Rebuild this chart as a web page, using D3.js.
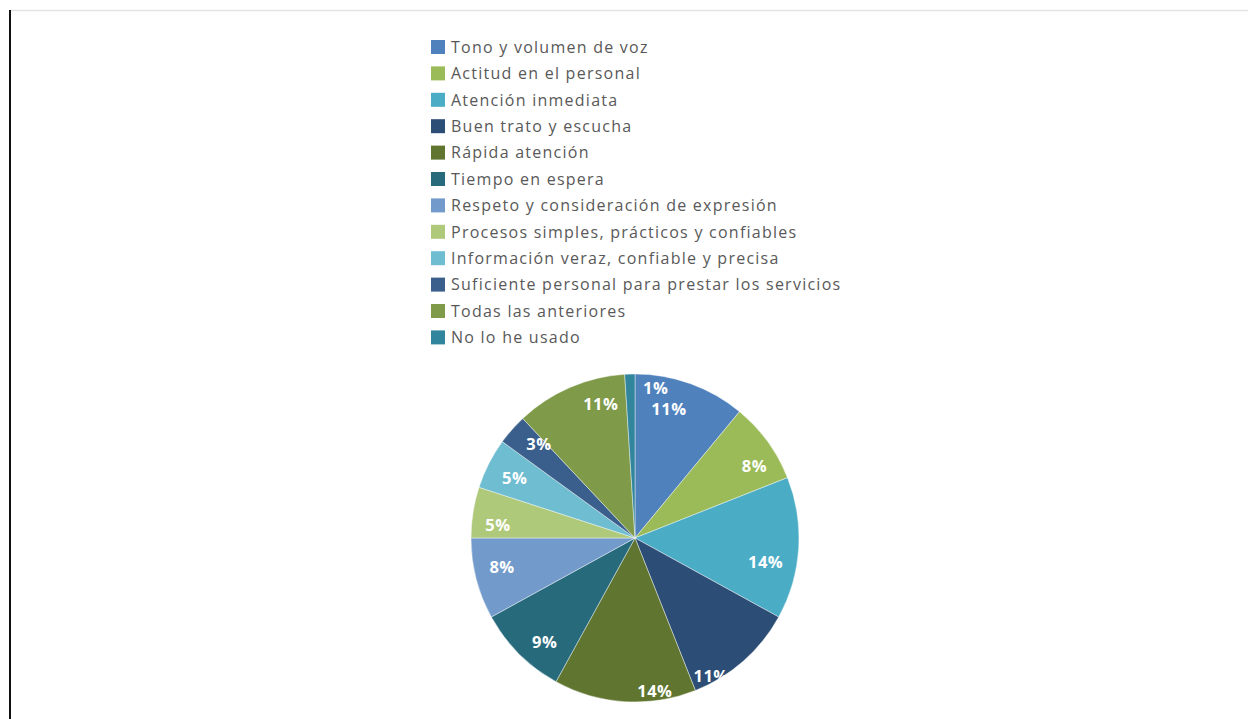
<!DOCTYPE html>
<html>
<head>
<meta charset="utf-8">
<script src="https://cdn.jsdelivr.net/npm/d3@7"></script>
<style>
  html, body { margin: 0; padding: 0; background: #fff; }
  svg { display: block; }
</style>
</head>
<body>
<svg id="chart" width="1248" height="719"></svg>
<script>
// Survey answers: what respondents value in the service
const categories = [
  "Tono y volumen de voz",
  "Actitud en el personal",
  "Atención inmediata",
  "Buen trato y escucha",
  "Rápida atención",
  "Tiempo en espera",
  "Respeto y consideración de expresión",
  "Procesos simples, prácticos y confiables",
  "Información veraz, confiable y precisa",
  "Suficiente personal para prestar los servicios",
  "Todas las anteriores",
  "No lo he usado"
];
const percentages = [11, 8, 14, 11, 14, 9, 8, 5, 5, 3, 11, 1];
const sliceColors = [
  "#4f81bd", "#9bbb59", "#4bacc6", "#2c4d75", "#5f7530", "#276a7c",
  "#729aca", "#afc97a", "#6fbdd1", "#3a5f8c", "#7f9a48", "#31859c"
];

// Label placement relative to each slice: [angle shift in degrees, radius fraction]
const labelPlacement = [
  [-5, 0.81], [5, 0.85], [7, 0.81], [12.5, 0.96], [-11, 0.94], [-4, 0.84],
  [2, 0.83], [-3.5, 0.84], [-0.5, 0.82], [3, 0.82], [9, 0.84], [9.7, 0.92]
];

const svg = d3.select("#chart");
const W = 1248, H = 719;

// Page frame: dark rule at the left, faint rule along the top
svg.append("line")
  .attr("x1", 10).attr("x2", 10).attr("y1", 10).attr("y2", H)
  .attr("stroke", "#111").attr("stroke-width", 2);
svg.append("line")
  .attr("x1", 11).attr("x2", W).attr("y1", 10.5).attr("y2", 10.5)
  .attr("stroke", "#e3e3e3").attr("stroke-width", 1.5);

// Legend
const legend = svg.append("g").attr("transform", "translate(431,47)");
const rowStep = 26.4;
const color = d3.scaleOrdinal().domain(categories).range(sliceColors);
const rows = legend.selectAll("g.row").data(categories).join("g")
  .attr("class", "row")
  .attr("transform", (d, i) => `translate(0,${i * rowStep})`);
rows.append("rect")
  .attr("x", 0).attr("y", -7).attr("width", 14).attr("height", 14)
  .attr("fill", d => color(d));
rows.append("text")
  .attr("x", 20).attr("y", 0).attr("dy", "0.36em")
  .attr("font-family", "'Open Sans', 'Noto Sans', sans-serif")
  .attr("font-size", 16)
  .attr("letter-spacing", 1.25)
  .attr("fill", "#595959")
  .text(d => d);

// Pie
const cx = 635, cy = 538, r = 164;
const data = categories.map((c, i) => ({ name: c, value: percentages[i] }));
const pie = d3.pie().value(d => d.value).sort(null);
const arcs = pie(data);
const arc = d3.arc().innerRadius(0).outerRadius(r);

const g = svg.append("g").attr("transform", `translate(${cx},${cy})`);
g.selectAll("path").data(arcs).join("path")
  .attr("d", arc)
  .attr("fill", d => color(d.data.name))
  .attr("stroke", "#ffffff")
  .attr("stroke-width", 0.6)
  .attr("stroke-opacity", 0.7);

// Data labels, positioned in polar terms around each slice's mid angle
function labelPos(d, i) {
  const [shift, frac] = labelPlacement[i];
  const a = (d.startAngle + d.endAngle) / 2 + shift * Math.PI / 180;
  const rr = r * frac;
  return [Math.sin(a) * rr, -Math.cos(a) * rr];
}
g.selectAll("text.lbl").data(arcs).join("text")
  .attr("class", "lbl")
  .attr("x", (d, i) => labelPos(d, i)[0])
  .attr("y", (d, i) => labelPos(d, i)[1])
  .attr("dy", "0.35em")
  .attr("text-anchor", "middle")
  .attr("font-family", "'Open Sans', 'Noto Sans', sans-serif")
  .attr("font-weight", "bold")
  .attr("font-size", 16.5)
  .attr("letter-spacing", 0.5)
  .attr("fill", "#ffffff")
  .text(d => d.data.value + "%");
</script>
</body>
</html>
